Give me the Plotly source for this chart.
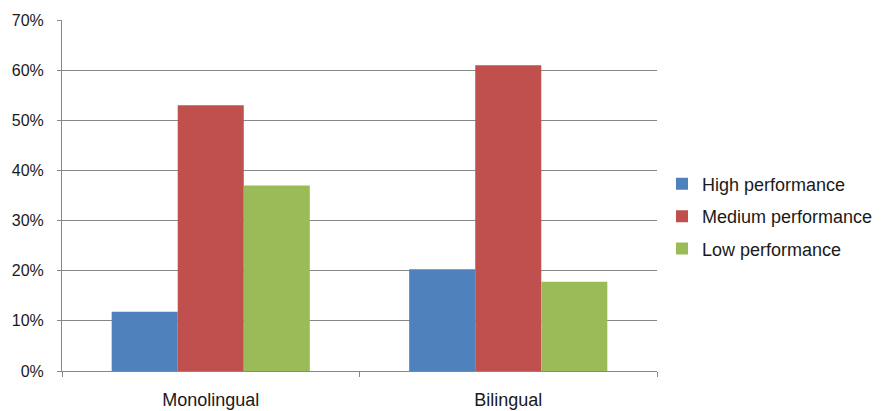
import plotly.graph_objects as go

# Share of pupils by performance level in each language group
groups = ["Monolingual", "Bilingual"]
series_names = ["High performance", "Medium performance", "Low performance"]
high_vals = [0.118, 0.203]
medium_vals = [0.53, 0.61]
low_vals = [0.37, 0.178]
y_tick_vals = [0, 0.1, 0.2, 0.3, 0.4, 0.5, 0.6, 0.7]
y_tick_text = ["0%", "10%", "20%", "30%", "40%", "50%", "60%", "70%"]

colors = ["#4F81BD", "#C0504D", "#9BBB59"]
grid = "#878787"
font_family = "Liberation Sans, Arial, sans-serif"

fig = go.Figure()
for i, (name, vals) in enumerate(zip(series_names, [high_vals, medium_vals, low_vals])):
    fig.add_trace(go.Bar(
        x=groups, y=vals, name=name,
        marker=dict(color=colors[i], line=dict(width=0)),
        legendgroup=name,
    ))

fig.update_layout(
    width=885, height=411,
    margin=dict(l=62, r=228, t=20, b=40, autoexpand=False),
    paper_bgcolor="white", plot_bgcolor="white",
    barmode="group", bargap=0.334, bargroupgap=0,
    font=dict(family=font_family, color="#1a1a1a", size=16),
    showlegend=True,
    legend=dict(
        x=1.0084, xanchor="left", xref="paper",
        y=0.44, yanchor="middle",
        font=dict(size=18, color="#1a1a1a"),
        traceorder="grouped", tracegroupgap=6,
        itemwidth=30,
        bgcolor="rgba(0,0,0,0)",
    ),
    xaxis=dict(
        type="category", automargin=False,
        showline=True, linecolor=grid, linewidth=1,
        ticks="outside", tickson="boundaries", ticklen=5, tickcolor=grid, tickwidth=1,
        tickfont=dict(size=18),
        showgrid=False, zeroline=False,
        ticklabelstandoff=12,
    ),
    yaxis=dict(
        range=[0, 0.7], automargin=False,
        tickvals=y_tick_vals, ticktext=y_tick_text,
        showline=True, linecolor=grid, linewidth=1,
        ticks="outside", ticklen=4, tickcolor=grid, tickwidth=1,
        showgrid=True, gridcolor=grid, gridwidth=1,
        zeroline=False,
        tickfont=dict(size=16),
        ticklabelstandoff=10,
    ),
)

fig.write_html("out.html")
